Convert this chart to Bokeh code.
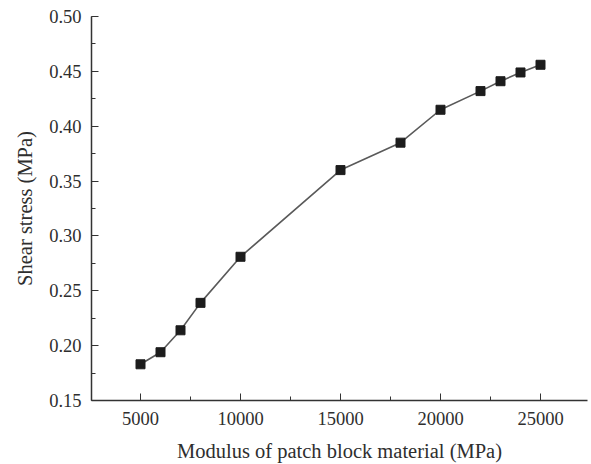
from bokeh.plotting import figure
from bokeh.models import Range1d, FixedTicker, CustomJSTickFormatter
from bokeh.embed import file_html
from bokeh.resources import INLINE

# data
modulus = [5000, 6000, 7000, 8000, 10000, 15000, 18000, 20000, 22000, 23000, 24000, 25000]
shear_stress = [0.183, 0.194, 0.214, 0.239, 0.281, 0.360, 0.385, 0.415, 0.432, 0.441, 0.449, 0.456]
x_ticks = [5000, 10000, 15000, 20000, 25000]
y_ticks = [0.15, 0.20, 0.25, 0.30, 0.35, 0.40, 0.45, 0.50]

FONT = "Liberation Serif"
TXT = "#2e2e2e"

p = figure(width=591, height=464, output_backend="svg", toolbar_location=None,
           x_range=Range1d(2550, 27350), y_range=Range1d(0.15, 0.50),
           min_border_left=91, min_border_right=4, min_border_top=16, min_border_bottom=64)
p.outline_line_color = None
p.grid.visible = False
p.background_fill_color = "white"
p.border_fill_color = "white"

p.line(modulus, shear_stress, line_color="#5a5a5a", line_width=1.6)
p.scatter(modulus, shear_stress, marker="square", size=9, fill_color="#1c1c1c",
          line_color="#1c1c1c", line_width=1)

minor_x = [2500 + 2500 * i for i in range(11)]
minor_y = [0.15 + 0.025 * i for i in range(15)]
p.xaxis.ticker = FixedTicker(ticks=x_ticks, minor_ticks=minor_x)
p.yaxis.ticker = FixedTicker(ticks=y_ticks, minor_ticks=minor_y)
p.yaxis.formatter = CustomJSTickFormatter(code="return tick.toFixed(2);")

for ax in (p.xaxis[0], p.yaxis[0]):
    ax.axis_line_color = "#333333"
    ax.axis_line_width = 1.5
    ax.major_tick_line_color = "#333333"
    ax.minor_tick_line_color = "#333333"
    ax.major_tick_in = 7
    ax.major_tick_out = 0
    ax.minor_tick_in = 4
    ax.minor_tick_out = 0
    ax.major_label_text_font = FONT
    ax.major_label_text_font_size = "18.5px"
    ax.major_label_text_color = TXT
    ax.axis_label_text_font = FONT
    ax.axis_label_text_font_size = "20.5px"
    ax.axis_label_text_color = TXT
    ax.axis_label_text_font_style = "normal"

p.xaxis.axis_label = "Modulus of patch block material (MPa)"
p.yaxis.axis_label = "Shear stress (MPa)"
p.xaxis.major_label_standoff = 11
p.yaxis.major_label_standoff = 10
p.xaxis.axis_label_standoff = 12
p.yaxis.axis_label_standoff = 10

open("out.html", "w").write(file_html(p, INLINE))
